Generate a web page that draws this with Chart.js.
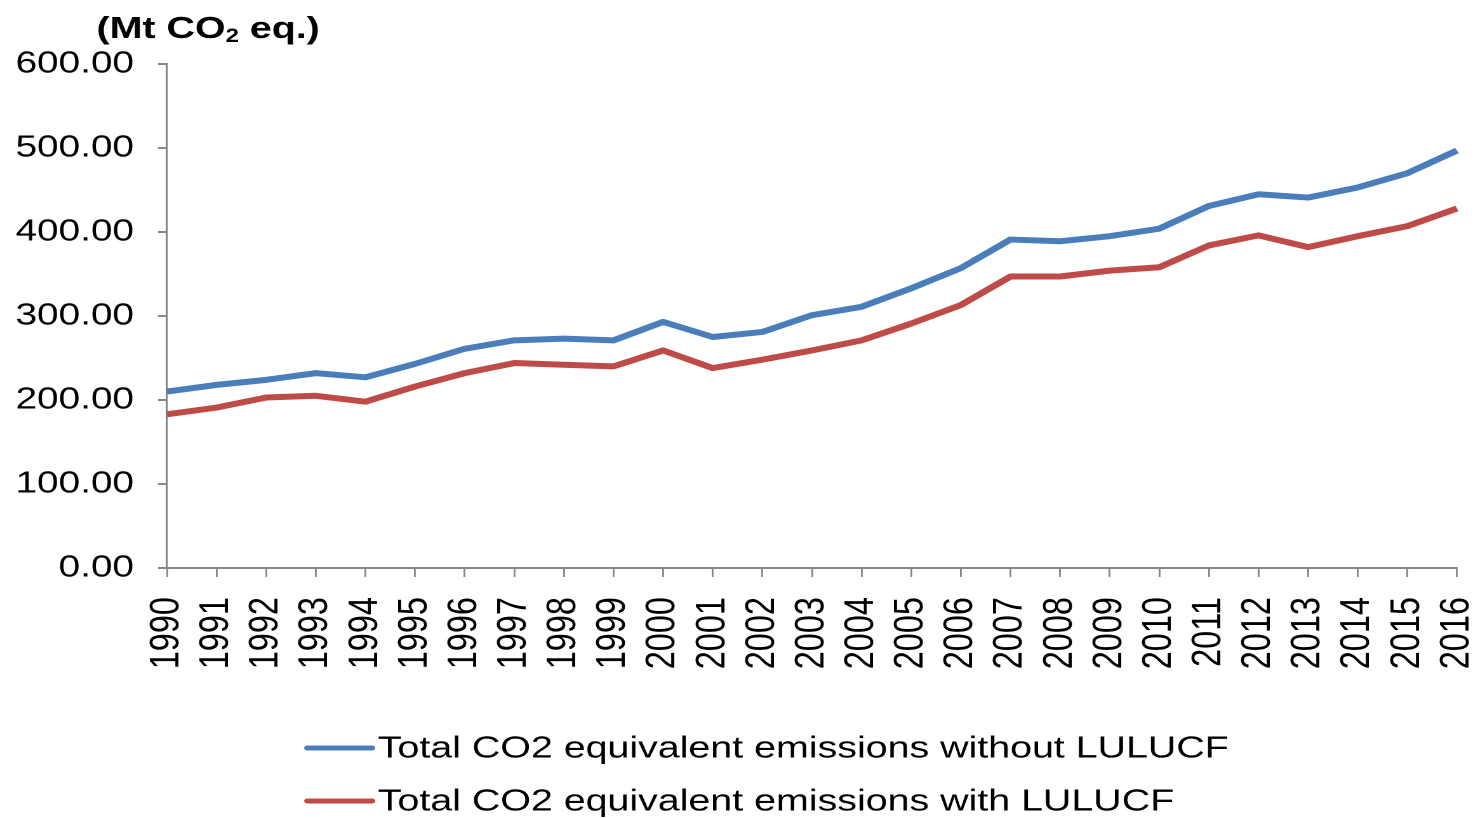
<!DOCTYPE html>
<html>
<head>
<meta charset="utf-8">
<script src="https://cdn.jsdelivr.net/npm/chart.js@4/dist/chart.umd.min.js"></script>
<style>
  html, body { margin: 0; padding: 0; background: #fff; overflow: hidden; }
  /* the original picture is stretched sideways, so the chart is drawn narrow and scaled */
  #wrap { width: 1164px; height: 818px; transform: scaleX(1.2698); transform-origin: 0 0; }
</style>
</head>
<body>
<div id="wrap"><canvas id="emissionsChart" width="1164" height="818"></canvas></div>
<script>
const years = [
  "1990", "1991", "1992", "1993", "1994", "1995", "1996", "1997", "1998",
  "1999", "2000", "2001", "2002", "2003", "2004", "2005", "2006", "2007",
  "2008", "2009", "2010", "2011", "2012", "2013", "2014", "2015", "2016",
];
const withoutLulucf = [
  210, 218, 224, 232, 227, 243, 261, 271, 273,
  271, 293, 275, 281, 301, 311, 333, 357, 391,
  389, 395, 404, 431, 445, 441, 453, 470, 497,
];
const withLulucf = [
  183, 191, 203, 205, 198, 216, 232, 244, 242,
  240, 259, 238, 248, 259, 271, 291, 313, 347,
  347, 354, 358, 384, 396, 382, 395, 407, 428,
];
const seriesNames = [
  "Total CO2 equivalent emissions without LULUCF",
  "Total CO2 equivalent emissions with LULUCF",
];
const seriesColors = ["#4A7EBB", "#BE4B48"];

const FONT = "'Liberation Sans', Arial, sans-serif";
const AXIS = "#868686";

// unit label above the y axis, with a subscript 2
const unitTitle = {
  id: "unitTitle",
  afterDraw(chart) {
    const ctx = chart.ctx;
    ctx.save();
    ctx.fillStyle = "#000";
    ctx.textBaseline = "alphabetic";
    ctx.textAlign = "left";
    let x = 76;
    ctx.font = `bold 31px ${FONT}`;
    ctx.fillText("(Mt CO", x, 38);
    x += ctx.measureText("(Mt CO").width;
    ctx.font = `bold 19px ${FONT}`;
    ctx.fillText("2", x, 42);
    x += ctx.measureText("2").width;
    ctx.font = `bold 31px ${FONT}`;
    ctx.fillText(" eq.)", x, 38);
    ctx.restore();
  },
};

// legend rows, left aligned on the same x
const rowLegend = {
  id: "rowLegend",
  afterDraw(chart) {
    const ctx = chart.ctx;
    const rows = [748, 801];
    ctx.save();
    chart.data.datasets.forEach((ds, i) => {
      const y = rows[i];
      ctx.strokeStyle = ds.borderColor;
      ctx.lineWidth = 5;
      ctx.lineCap = "round";
      ctx.beginPath();
      ctx.moveTo(242, y);
      ctx.lineTo(293, y);
      ctx.stroke();
      ctx.fillStyle = "#000";
      ctx.font = `31px ${FONT}`;
      ctx.textBaseline = "middle";
      ctx.textAlign = "left";
      ctx.fillText(ds.label, 297.5, y + 1);
    });
    ctx.restore();
  },
};

new Chart(document.getElementById("emissionsChart"), {
  type: "line",
  data: {
    labels: years,
    datasets: [
      {
        label: seriesNames[0],
        data: withoutLulucf,
        borderColor: seriesColors[0],
        backgroundColor: seriesColors[0],
        borderWidth: 6,
        pointRadius: 0,
        tension: 0,
        borderJoinStyle: "round",
      },
      {
        label: seriesNames[1],
        data: withLulucf,
        borderColor: seriesColors[1],
        backgroundColor: seriesColors[1],
        borderWidth: 6,
        pointRadius: 0,
        tension: 0,
        borderJoinStyle: "round",
      },
    ],
  },
  options: {
    responsive: false,
    animation: false,
    devicePixelRatio: 2,
    layout: { padding: { top: 64, right: 16.6, bottom: 0, left: 0 } },
    plugins: {
      legend: { display: false },
      title: { display: false },
      tooltip: { enabled: false },
    },
    scales: {
      x: {
        offset: false,
        grid: { drawOnChartArea: false, drawTicks: true, tickLength: 9, color: AXIS, lineWidth: 1.4 },
        border: { display: true, color: AXIS, width: 2 },
        ticks: {
          color: "#000",
          font: { family: FONT, size: 32.5 },
          minRotation: 90,
          maxRotation: 90,
          autoSkip: false,
          padding: 20,
        },
        afterFit(scale) {
          scale.height = 250;
          scale.paddingLeft = 0;
          scale.paddingRight = 0;
        },
      },
      y: {
        min: 0,
        max: 600,
        grid: { drawOnChartArea: false, drawTicks: true, tickLength: 7, color: AXIS, lineWidth: 2 },
        border: { display: true, color: AXIS, width: 1.6 },
        ticks: {
          stepSize: 100,
          color: "#000",
          font: { family: FONT, size: 30.5 },
          padding: 19,
          callback: (v) => v.toFixed(2),
        },
        afterFit(scale) {
          scale.width = 131.5;
        },
      },
    },
  },
  plugins: [unitTitle, rowLegend],
});
</script>
</body>
</html>
